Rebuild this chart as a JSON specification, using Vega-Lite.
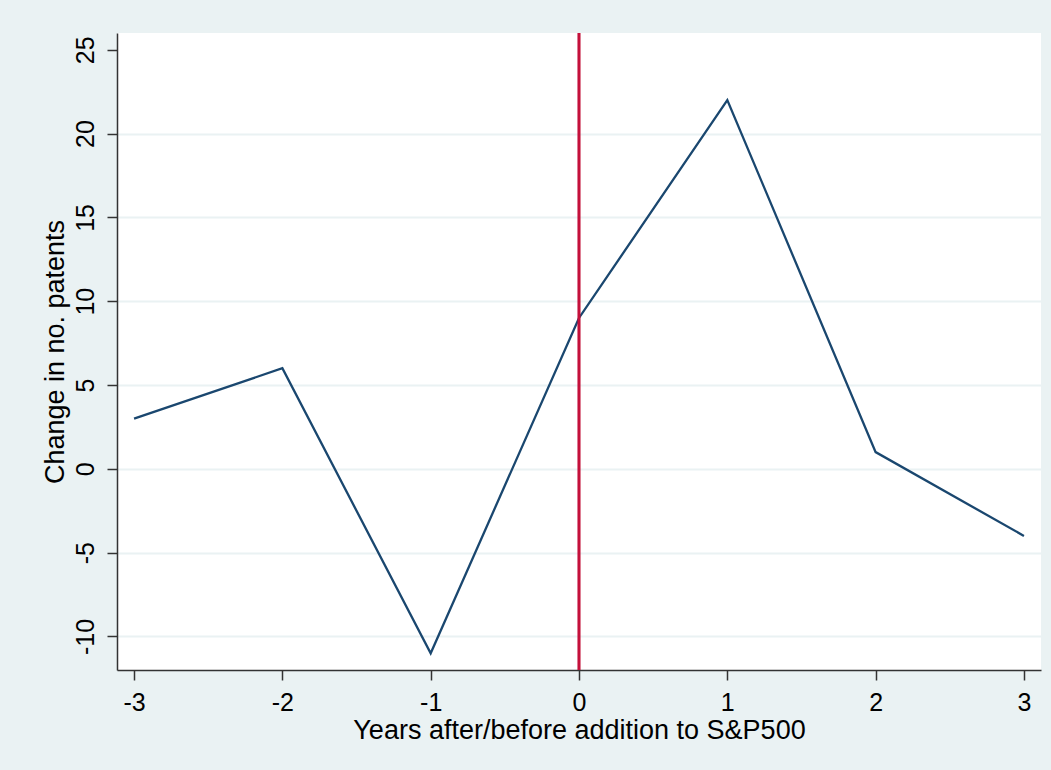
{
  "$schema": "https://vega.github.io/schema/vega-lite/v6.json",
  "autosize": {"type": "none"},
  "width": 924,
  "height": 637,
  "padding": {"left": 117, "top": 33, "right": 10, "bottom": 100},
  "background": "#EAF2F3",
  "config": {
    "view": {"fill": "white", "stroke": null},
    "font": "Liberation Sans",
    "axis": {
      "labelFont": "Liberation Sans",
      "titleFont": "Liberation Sans",
      "labelFontSize": 25,
      "titleFontSize": 27,
      "titleFontWeight": "normal",
      "labelColor": "black",
      "titleColor": "black",
      "domainColor": "#333333",
      "domainWidth": 1.5,
      "tickColor": "#333333",
      "tickWidth": 1.5,
      "tickSize": 10,
      "labelExpr": "datum.value + ''"
    }
  },
  "data": {
    "values": [
      {"year": -3, "change": 3},
      {"year": -2, "change": 6},
      {"year": -1, "change": -11},
      {"year": 0, "change": 9},
      {"year": 1, "change": 22},
      {"year": 2, "change": 1},
      {"year": 3, "change": -4}
    ]
  },
  "layer": [
    {
      "mark": {"type": "line", "color": "#1A476F", "strokeWidth": 2.3},
      "encoding": {
        "x": {
          "field": "year",
          "type": "quantitative",
          "scale": {"domain": [-3.115, 3.115], "nice": false, "zero": false},
          "axis": {
            "values": [-3, -2, -1, 0, 1, 2, 3],
            "grid": false,
            "title": "Years after/before addition to S&P500",
            "labelPadding": 10,
            "titlePadding": 2
          }
        },
        "y": {
          "field": "change",
          "type": "quantitative",
          "scale": {"domain": [-12, 26], "nice": false, "zero": false},
          "axis": {
            "values": [-10, -5, 0, 5, 10, 15, 20, 25],
            "grid": true,
            "gridColor": "#EAF2F3",
            "gridWidth": 2,
            "gridOpacity": {"condition": {"test": "datum.value == 25", "value": 0}, "value": 1},
            "labelAngle": -90,
            "labelAlign": "center",
            "labelBaseline": "alphabetic",
            "labelPadding": 14,
            "title": "Change in no. patents",
            "titlePadding": 4
          }
        }
      }
    },
    {
      "mark": {"type": "rule", "color": "#C4103A", "strokeWidth": 2.2},
      "encoding": {
        "x": {"datum": 0, "type": "quantitative"}
      }
    }
  ]
}
